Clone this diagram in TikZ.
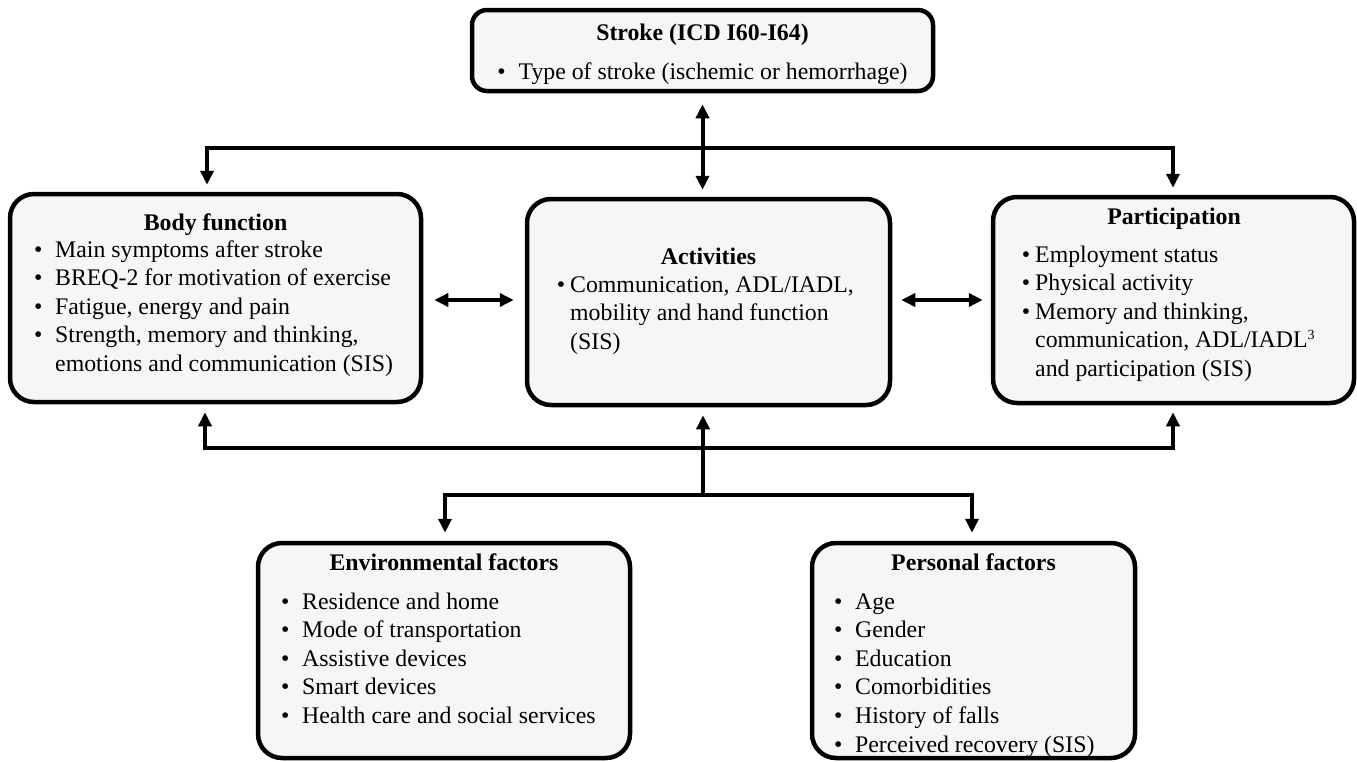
\documentclass[tikz,border=0pt]{standalone}
\usepackage{fontspec}
\setmainfont{Liberation Serif}
\usetikzlibrary{arrows.meta}
\definecolor{boxfill}{RGB}{246,246,246}
\newdimen\bsep
\newcommand{\bl}[1]{\hbox{\llap{\textbullet\kern\bsep}#1}}
\newcommand{\cl}[1]{\hbox{#1}}
\newcommand{\lines}[1]{\vtop{\baselineskip=28.6pt\lineskiplimit=-100pt\lineskip=0pt #1}}
\newcommand{\supthree}{\raisebox{8pt}{\fontsize{14}{14}\selectfont 3}}
\begin{document}
\begin{tikzpicture}[x=1pt,y=-1pt,
  box/.style={draw, line width=4.5pt, fill=boxfill, rounded corners=24pt, inner sep=0pt},
  ttl/.style={anchor=base, inner sep=0pt, font=\bfseries\fontsize{23.8}{28.6}\selectfont},
  txt/.style={anchor=base west, inner sep=0pt, font=\fontsize{23.8}{28.6}\selectfont},
  ln/.style={line width=4pt, line join=miter},
  >={Triangle[length=14pt,width=13pt]}]
\useasboundingbox (0,0) rectangle (1357,761);

% boxes
\node[box, rounded corners=15pt, minimum width=461pt, minimum height=81pt] (stroke) at (702.5,50.5) {};
\node[box, minimum width=411pt, minimum height=208pt] (body) at (215.5,298) {};
\node[box, minimum width=363pt, minimum height=206pt] (act) at (708.5,302) {};
\node[box, minimum width=361pt, minimum height=206pt] (part) at (1173.5,300) {};
\node[box, minimum width=372pt, minimum height=215pt] (env) at (444,650.5) {};
\node[box, minimum width=323pt, minimum height=215pt] (pers) at (973.5,650.5) {};

% texts
\node[ttl] (strokeT) at (702.5,40) {Stroke (ICD I60-I64)};
\node[txt, anchor=base] (strokeL) at (702.5,79) {\textbullet\kern12.8pt Type of stroke (ischemic or hemorrhage)};

\node[ttl] (bodyT) at (215.5,230) {Body function};
\node[txt] (bodyL) at (55,257) {\bsep=12.8pt\lines{\bl{Main symptoms after stroke}\bl{BREQ-2 for motivation of exercise}\bl{Fatigue, energy and pain}\bl{Strength, memory and thinking,}\cl{emotions and communication (SIS)}}};

\node[ttl] (actT) at (708.5,264) {Activities};
\node[txt] (actL) at (570,292) {\bsep=5pt\lines{\bl{Communication, ADL/IADL,}\cl{mobility and hand function}\cl{(SIS)}}};

\node[ttl] (partT) at (1174,224) {Participation};
\node[txt] (partL) at (1035,262) {\bsep=5pt\lines{\bl{Employment status}\bl{Physical activity}\bl{Memory and thinking,}\cl{communication, ADL/IADL\supthree}\cl{and participation (SIS)}}};

\node[ttl] (envT) at (444,570) {Environmental factors};
\node[txt] (envL) at (302,609) {\bsep=12.8pt\lines{\bl{Residence and home}\bl{Mode of transportation}\bl{Assistive devices}\bl{Smart devices}\bl{Health care and social services}}};

\node[ttl] (persT) at (973.5,570) {Personal factors};
\node[txt] (persL) at (855,609) {\bsep=12.8pt\lines{\bl{Age}\bl{Gender}\bl{Education}\bl{Comorbidities}\bl{History of falls}\bl{Perceived recovery (SIS)}}};

% connector points
\coordinate (tl) at (207,148);
\coordinate (tr) at (1173,148);
\coordinate (hy) at (0,300);
\coordinate (bl) at (205,448);
\coordinate (br) at (1173,448);
\coordinate (mb) at (703,495);
\coordinate (ll) at (445,495);
\coordinate (lr) at (972,495);

% connectors
\draw[ln, <->, shorten <=7pt, shorten >=7pt] (tl |- body.north) -- (tl) -- (tr) -- (tr |- part.north);
\draw[ln, <->, shorten <=11pt, shorten >=7pt] (stroke.south) -- (stroke.south |- act.north);
\draw[ln, <->, shorten <=11pt, shorten >=11pt] (body.east |- hy) -- (act.west |- hy);
\draw[ln, <->, shorten <=9pt, shorten >=8pt] (act.east |- hy) -- (part.west |- hy);
\draw[ln, <->, shorten <=8pt, shorten >=7pt] (bl |- body.south) -- (bl) -- (br) -- (br |- part.south);
\draw[ln, ->, shorten >=8pt] (mb) -- (mb |- act.south);
\draw[ln, <->, shorten <=8pt, shorten >=8pt] (ll |- env.north) -- (ll) -- (lr) -- (lr |- pers.north);
\end{tikzpicture}
\end{document}
